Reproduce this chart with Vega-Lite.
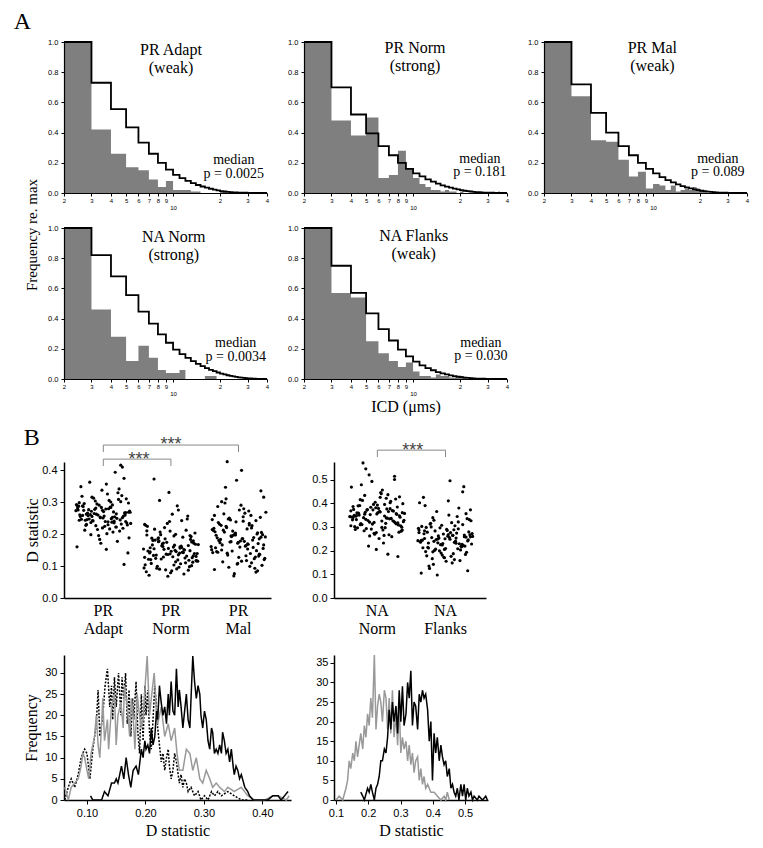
{
"$schema":"https://vega.github.io/schema/vega-lite/v6.json",
"background":"white",
"padding":{"left":13,"top":10,"right":0,"bottom":0},
"title":{"text":"A","anchor":"start","fontSize":24,"font":"Liberation Serif","fontWeight":"normal","color":"#000","offset":4,"dx":-10},
"config":{
 "view":{"stroke":null},
 "axis":{"domainColor":"#000","tickColor":"#000","labelColor":"#000","titleColor":"#000","labelFont":"Liberation Sans","titleFont":"Liberation Serif","titleFontWeight":"normal","grid":false,"labelFlush":false,"labelOverlap":false},
 "text":{"font":"Liberation Serif","color":"#000"},
 "title":{"font":"Liberation Serif","fontWeight":"normal","color":"#000"}
},
"datasets":{
"hPA":[{"x":2,"g":1,"e":1},{"x":3,"g":0.42,"e":0.73},{"x":4,"g":0.26,"e":0.556},{"x":5,"g":0.17,"e":0.435},{"x":6,"g":0.15,"e":0.334},{"x":7,"g":0.09,"e":0.26},{"x":8,"g":0.04,"e":0.2},{"x":9,"g":0.08,"e":0.155},{"x":10,"g":0.02,"e":0.12},{"x":11,"g":0.02,"e":0.098},{"x":12,"g":0.02,"e":0.08},{"x":13,"g":0.01,"e":0.065},{"x":14,"g":0.01,"e":0.053},{"x":15,"g":0,"e":0.043},{"x":16,"g":0,"e":0.035},{"x":17,"g":0,"e":0.028},{"x":18,"g":0,"e":0.022},{"x":19,"g":0,"e":0.017},{"x":20,"g":0.01,"e":0.013},{"x":21,"g":0.01,"e":0.01},{"x":22,"g":0,"e":0.008},{"x":23,"g":0,"e":0.006},{"x":24,"g":0,"e":0.0045},{"x":25,"g":0,"e":0.0035},{"x":26,"g":0,"e":0.0025},{"x":28,"g":0,"e":0.0015},{"x":30,"g":0,"e":0},{"x":40,"g":0,"e":0}],
"hPN":[{"x":2,"g":1,"e":1},{"x":3,"g":0.48,"e":0.7},{"x":4,"g":0.38,"e":0.52},{"x":5,"g":0.5,"e":0.395},{"x":6,"g":0.1,"e":0.31},{"x":7,"g":0.12,"e":0.25},{"x":8,"g":0.28,"e":0.2},{"x":9,"g":0.16,"e":0.16},{"x":10,"g":0.1,"e":0.13},{"x":11,"g":0.06,"e":0.11},{"x":12,"g":0.04,"e":0.09},{"x":13,"g":0.02,"e":0.075},{"x":14,"g":0.02,"e":0.062},{"x":15,"g":0.01,"e":0.051},{"x":16,"g":0.02,"e":0.042},{"x":17,"g":0.01,"e":0.035},{"x":18,"g":0.01,"e":0.029},{"x":19,"g":0,"e":0.024},{"x":20,"g":0.01,"e":0.019},{"x":21,"g":0,"e":0.015},{"x":22,"g":0,"e":0.012},{"x":23,"g":0,"e":0.01},{"x":24,"g":0,"e":0.008},{"x":25,"g":0,"e":0.006},{"x":26,"g":0,"e":0.005},{"x":27,"g":0,"e":0.004},{"x":28,"g":0,"e":0.003},{"x":30,"g":0,"e":0.002},{"x":33,"g":0,"e":0.001},{"x":35,"g":0.01,"e":0.001},{"x":36,"g":0,"e":0},{"x":40,"g":0,"e":0}],
"hPM":[{"x":2,"g":1,"e":1},{"x":3,"g":0.64,"e":0.72},{"x":4,"g":0.35,"e":0.53},{"x":5,"g":0.34,"e":0.4},{"x":6,"g":0.22,"e":0.31},{"x":7,"g":0.11,"e":0.25},{"x":8,"g":0.14,"e":0.2},{"x":9,"g":0.03,"e":0.16},{"x":10,"g":0.06,"e":0.13},{"x":11,"g":0.05,"e":0.105},{"x":12,"g":0.02,"e":0.085},{"x":13,"g":0.05,"e":0.07},{"x":14,"g":0.01,"e":0.057},{"x":15,"g":0.02,"e":0.046},{"x":16,"g":0.03,"e":0.037},{"x":17,"g":0.02,"e":0.03},{"x":18,"g":0.04,"e":0.024},{"x":19,"g":0.03,"e":0.019},{"x":20,"g":0.02,"e":0.015},{"x":21,"g":0.01,"e":0.012},{"x":22,"g":0,"e":0.009},{"x":23,"g":0,"e":0.007},{"x":24,"g":0,"e":0.005},{"x":25,"g":0,"e":0.004},{"x":26,"g":0,"e":0.003},{"x":28,"g":0,"e":0.002},{"x":30,"g":0,"e":0.001},{"x":32,"g":0,"e":0},{"x":40,"g":0,"e":0}],
"hNN":[{"x":2,"g":1,"e":1},{"x":3,"g":0.46,"e":0.82},{"x":4,"g":0.28,"e":0.68},{"x":5,"g":0.12,"e":0.555},{"x":6,"g":0.22,"e":0.446},{"x":7,"g":0.14,"e":0.367},{"x":8,"g":0.06,"e":0.295},{"x":9,"g":0.04,"e":0.24},{"x":10,"g":0.04,"e":0.195},{"x":11,"g":0.06,"e":0.165},{"x":12,"g":0,"e":0.14},{"x":13,"g":0,"e":0.118},{"x":14,"g":0,"e":0.1},{"x":15,"g":0,"e":0.085},{"x":16,"g":0.02,"e":0.072},{"x":17,"g":0.02,"e":0.061},{"x":18,"g":0.02,"e":0.052},{"x":19,"g":0,"e":0.043},{"x":20,"g":0,"e":0.036},{"x":21,"g":0,"e":0.03},{"x":22,"g":0,"e":0.025},{"x":23,"g":0,"e":0.021},{"x":24,"g":0,"e":0.017},{"x":25,"g":0,"e":0.014},{"x":26,"g":0,"e":0.011},{"x":27,"g":0,"e":0.009},{"x":28,"g":0,"e":0.007},{"x":29,"g":0,"e":0.005},{"x":30,"g":0,"e":0.004},{"x":32,"g":0,"e":0.002},{"x":34,"g":0,"e":0.001},{"x":36,"g":0,"e":0},{"x":40,"g":0,"e":0}],
"hNF":[{"x":2,"g":1,"e":1},{"x":3,"g":0.57,"e":0.75},{"x":4,"g":0.54,"e":0.57},{"x":5,"g":0.25,"e":0.435},{"x":6,"g":0.17,"e":0.33},{"x":7,"g":0.12,"e":0.255},{"x":8,"g":0.08,"e":0.195},{"x":9,"g":0.11,"e":0.15},{"x":10,"g":0.05,"e":0.115},{"x":11,"g":0.02,"e":0.09},{"x":12,"g":0.02,"e":0.072},{"x":13,"g":0.01,"e":0.058},{"x":14,"g":0.03,"e":0.046},{"x":15,"g":0.02,"e":0.037},{"x":16,"g":0.02,"e":0.03},{"x":17,"g":0.01,"e":0.024},{"x":18,"g":0.01,"e":0.019},{"x":19,"g":0.01,"e":0.015},{"x":20,"g":0.02,"e":0.012},{"x":21,"g":0.01,"e":0.009},{"x":22,"g":0,"e":0.007},{"x":23,"g":0,"e":0.005},{"x":24,"g":0,"e":0.004},{"x":25,"g":0,"e":0.003},{"x":27,"g":0,"e":0.002},{"x":29,"g":0,"e":0.001},{"x":31,"g":0,"e":0},{"x":40,"g":0,"e":0}],
"fL":[
{"s":"m","x":0.062,"f":0},{"s":"m","x":0.068,"f":3},{"s":"m","x":0.073,"f":5},{"s":"m","x":0.079,"f":3},{"s":"m","x":0.085,"f":6},{"s":"m","x":0.09,"f":10},{"s":"m","x":0.096,"f":12},{"s":"m","x":0.1,"f":11},{"s":"m","x":0.105,"f":5},{"s":"m","x":0.11,"f":12},{"s":"m","x":0.116,"f":18},{"s":"m","x":0.119,"f":26},{"s":"m","x":0.122,"f":15},{"s":"m","x":0.127,"f":20},{"s":"m","x":0.131,"f":27},{"s":"m","x":0.135,"f":31},{"s":"m","x":0.139,"f":22},{"s":"m","x":0.142,"f":27},{"s":"m","x":0.144,"f":19},{"s":"m","x":0.147,"f":29},{"s":"m","x":0.15,"f":22},{"s":"m","x":0.154,"f":30},{"s":"m","x":0.158,"f":20},{"s":"m","x":0.16,"f":29},{"s":"m","x":0.163,"f":24},{"s":"m","x":0.166,"f":30},{"s":"m","x":0.169,"f":18},{"s":"m","x":0.172,"f":26},{"s":"m","x":0.175,"f":15},{"s":"m","x":0.178,"f":24},{"s":"m","x":0.18,"f":19},{"s":"m","x":0.184,"f":28},{"s":"m","x":0.187,"f":16},{"s":"m","x":0.19,"f":11},{"s":"m","x":0.193,"f":25},{"s":"m","x":0.196,"f":14},{"s":"m","x":0.199,"f":27},{"s":"m","x":0.201,"f":20},{"s":"m","x":0.204,"f":26},{"s":"m","x":0.207,"f":16},{"s":"m","x":0.21,"f":12},{"s":"m","x":0.213,"f":19},{"s":"m","x":0.216,"f":27},{"s":"m","x":0.219,"f":22},{"s":"m","x":0.221,"f":17},{"s":"m","x":0.224,"f":13},{"s":"m","x":0.227,"f":9},{"s":"m","x":0.23,"f":11},{"s":"m","x":0.233,"f":7},{"s":"m","x":0.236,"f":10},{"s":"m","x":0.239,"f":12},{"s":"m","x":0.241,"f":8},{"s":"m","x":0.244,"f":5},{"s":"m","x":0.247,"f":7},{"s":"m","x":0.25,"f":11},{"s":"m","x":0.253,"f":9},{"s":"m","x":0.256,"f":6},{"s":"m","x":0.258,"f":4},{"s":"m","x":0.261,"f":6},{"s":"m","x":0.264,"f":3},{"s":"m","x":0.267,"f":5},{"s":"m","x":0.27,"f":4},{"s":"m","x":0.273,"f":2},{"s":"m","x":0.278,"f":3},{"s":"m","x":0.284,"f":1},{"s":"m","x":0.29,"f":2},{"s":"m","x":0.295,"f":0},{"s":"m","x":0.301,"f":1},{"s":"m","x":0.307,"f":0},{"s":"m","x":0.313,"f":2},{"s":"m","x":0.318,"f":1},{"s":"m","x":0.324,"f":2},{"s":"m","x":0.33,"f":1},{"s":"m","x":0.341,"f":2},{"s":"m","x":0.352,"f":1},{"s":"m","x":0.364,"f":0},{"s":"m","x":0.375,"f":0},
{"s":"n","x":0.062,"f":3},{"s":"n","x":0.068,"f":0},{"s":"n","x":0.073,"f":3},{"s":"n","x":0.079,"f":4},{"s":"n","x":0.085,"f":5},{"s":"n","x":0.09,"f":8},{"s":"n","x":0.093,"f":11},{"s":"n","x":0.096,"f":10},{"s":"n","x":0.1,"f":7},{"s":"n","x":0.103,"f":5},{"s":"n","x":0.107,"f":11},{"s":"n","x":0.113,"f":15},{"s":"n","x":0.116,"f":20},{"s":"n","x":0.119,"f":13},{"s":"n","x":0.122,"f":10},{"s":"n","x":0.125,"f":18},{"s":"n","x":0.127,"f":24},{"s":"n","x":0.13,"f":14},{"s":"n","x":0.135,"f":19},{"s":"n","x":0.137,"f":12},{"s":"n","x":0.142,"f":22},{"s":"n","x":0.147,"f":25},{"s":"n","x":0.15,"f":13},{"s":"n","x":0.153,"f":20},{"s":"n","x":0.158,"f":23},{"s":"n","x":0.162,"f":17},{"s":"n","x":0.164,"f":27},{"s":"n","x":0.169,"f":22},{"s":"n","x":0.173,"f":15},{"s":"n","x":0.176,"f":24},{"s":"n","x":0.179,"f":20},{"s":"n","x":0.182,"f":12},{"s":"n","x":0.186,"f":25},{"s":"n","x":0.189,"f":21},{"s":"n","x":0.193,"f":17},{"s":"n","x":0.196,"f":19},{"s":"n","x":0.2,"f":28},{"s":"n","x":0.203,"f":34},{"s":"n","x":0.207,"f":20},{"s":"n","x":0.21,"f":24},{"s":"n","x":0.215,"f":30},{"s":"n","x":0.219,"f":20},{"s":"n","x":0.221,"f":18},{"s":"n","x":0.227,"f":22},{"s":"n","x":0.233,"f":15},{"s":"n","x":0.239,"f":18},{"s":"n","x":0.244,"f":14},{"s":"n","x":0.25,"f":17},{"s":"n","x":0.254,"f":11},{"s":"n","x":0.258,"f":7},{"s":"n","x":0.264,"f":7},{"s":"n","x":0.27,"f":12},{"s":"n","x":0.276,"f":11},{"s":"n","x":0.281,"f":7},{"s":"n","x":0.287,"f":10},{"s":"n","x":0.293,"f":5},{"s":"n","x":0.298,"f":4},{"s":"n","x":0.304,"f":7},{"s":"n","x":0.31,"f":5},{"s":"n","x":0.315,"f":3},{"s":"n","x":0.321,"f":4},{"s":"n","x":0.327,"f":3},{"s":"n","x":0.335,"f":2},{"s":"n","x":0.341,"f":3},{"s":"n","x":0.352,"f":2},{"s":"n","x":0.364,"f":3},{"s":"n","x":0.375,"f":1},{"s":"n","x":0.387,"f":0},{"s":"n","x":0.404,"f":0},{"s":"n","x":0.418,"f":1},{"s":"n","x":0.427,"f":1},{"s":"n","x":0.441,"f":0},{"s":"n","x":0.446,"f":1},
{"s":"a","x":0.106,"f":1},{"s":"a","x":0.11,"f":0},{"s":"a","x":0.125,"f":0},{"s":"a","x":0.13,"f":2},{"s":"a","x":0.136,"f":1},{"s":"a","x":0.142,"f":4},{"s":"a","x":0.147,"f":4},{"s":"a","x":0.15,"f":5},{"s":"a","x":0.153,"f":4},{"s":"a","x":0.156,"f":6},{"s":"a","x":0.159,"f":8},{"s":"a","x":0.163,"f":5},{"s":"a","x":0.167,"f":10},{"s":"a","x":0.171,"f":6},{"s":"a","x":0.175,"f":3},{"s":"a","x":0.179,"f":7},{"s":"a","x":0.184,"f":8},{"s":"a","x":0.188,"f":6},{"s":"a","x":0.193,"f":12},{"s":"a","x":0.196,"f":10},{"s":"a","x":0.199,"f":14},{"s":"a","x":0.201,"f":12},{"s":"a","x":0.204,"f":13},{"s":"a","x":0.207,"f":11},{"s":"a","x":0.21,"f":17},{"s":"a","x":0.213,"f":13},{"s":"a","x":0.216,"f":15},{"s":"a","x":0.219,"f":21},{"s":"a","x":0.221,"f":19},{"s":"a","x":0.224,"f":27},{"s":"a","x":0.227,"f":23},{"s":"a","x":0.23,"f":20},{"s":"a","x":0.233,"f":22},{"s":"a","x":0.236,"f":18},{"s":"a","x":0.239,"f":25},{"s":"a","x":0.241,"f":20},{"s":"a","x":0.244,"f":28},{"s":"a","x":0.247,"f":21},{"s":"a","x":0.25,"f":20},{"s":"a","x":0.253,"f":31},{"s":"a","x":0.256,"f":22},{"s":"a","x":0.258,"f":26},{"s":"a","x":0.261,"f":22},{"s":"a","x":0.264,"f":17},{"s":"a","x":0.267,"f":21},{"s":"a","x":0.27,"f":25},{"s":"a","x":0.273,"f":19},{"s":"a","x":0.276,"f":17},{"s":"a","x":0.278,"f":24},{"s":"a","x":0.281,"f":34},{"s":"a","x":0.284,"f":28},{"s":"a","x":0.287,"f":24},{"s":"a","x":0.29,"f":27},{"s":"a","x":0.293,"f":25},{"s":"a","x":0.295,"f":20},{"s":"a","x":0.298,"f":17},{"s":"a","x":0.301,"f":21},{"s":"a","x":0.304,"f":19},{"s":"a","x":0.307,"f":14},{"s":"a","x":0.31,"f":12},{"s":"a","x":0.313,"f":17},{"s":"a","x":0.315,"f":16},{"s":"a","x":0.318,"f":11},{"s":"a","x":0.321,"f":12},{"s":"a","x":0.324,"f":11},{"s":"a","x":0.327,"f":13},{"s":"a","x":0.33,"f":11},{"s":"a","x":0.332,"f":16},{"s":"a","x":0.335,"f":14},{"s":"a","x":0.338,"f":11},{"s":"a","x":0.341,"f":12},{"s":"a","x":0.344,"f":9},{"s":"a","x":0.347,"f":12},{"s":"a","x":0.35,"f":8},{"s":"a","x":0.352,"f":6},{"s":"a","x":0.355,"f":8},{"s":"a","x":0.358,"f":7},{"s":"a","x":0.361,"f":5},{"s":"a","x":0.364,"f":6},{"s":"a","x":0.37,"f":3},{"s":"a","x":0.375,"f":2},{"s":"a","x":0.378,"f":1},{"s":"a","x":0.384,"f":0},{"s":"a","x":0.409,"f":0},{"s":"a","x":0.418,"f":1},{"s":"a","x":0.427,"f":1},{"s":"a","x":0.432,"f":0},{"s":"a","x":0.438,"f":1},{"s":"a","x":0.444,"f":2}],
"fR":[
{"s":"n","x":0.1,"f":0},{"s":"n","x":0.11,"f":1},{"s":"n","x":0.121,"f":0},{"s":"n","x":0.131,"f":3},{"s":"n","x":0.136,"f":5},{"s":"n","x":0.141,"f":10},{"s":"n","x":0.146,"f":8},{"s":"n","x":0.152,"f":12},{"s":"n","x":0.157,"f":10},{"s":"n","x":0.162,"f":15},{"s":"n","x":0.167,"f":11},{"s":"n","x":0.172,"f":14},{"s":"n","x":0.177,"f":17},{"s":"n","x":0.183,"f":13},{"s":"n","x":0.188,"f":19},{"s":"n","x":0.193,"f":16},{"s":"n","x":0.198,"f":22},{"s":"n","x":0.203,"f":19},{"s":"n","x":0.208,"f":26},{"s":"n","x":0.213,"f":21},{"s":"n","x":0.219,"f":37},{"s":"n","x":0.224,"f":18},{"s":"n","x":0.229,"f":24},{"s":"n","x":0.234,"f":27},{"s":"n","x":0.239,"f":25},{"s":"n","x":0.244,"f":20},{"s":"n","x":0.25,"f":28},{"s":"n","x":0.255,"f":26},{"s":"n","x":0.26,"f":18},{"s":"n","x":0.265,"f":26},{"s":"n","x":0.27,"f":17},{"s":"n","x":0.275,"f":28},{"s":"n","x":0.28,"f":16},{"s":"n","x":0.286,"f":22},{"s":"n","x":0.291,"f":14},{"s":"n","x":0.296,"f":24},{"s":"n","x":0.301,"f":12},{"s":"n","x":0.306,"f":16},{"s":"n","x":0.311,"f":13},{"s":"n","x":0.317,"f":15},{"s":"n","x":0.322,"f":10},{"s":"n","x":0.327,"f":14},{"s":"n","x":0.332,"f":9},{"s":"n","x":0.337,"f":12},{"s":"n","x":0.342,"f":7},{"s":"n","x":0.347,"f":10},{"s":"n","x":0.353,"f":11},{"s":"n","x":0.358,"f":5},{"s":"n","x":0.363,"f":8},{"s":"n","x":0.368,"f":4},{"s":"n","x":0.373,"f":6},{"s":"n","x":0.378,"f":3},{"s":"n","x":0.384,"f":4},{"s":"n","x":0.394,"f":2},{"s":"n","x":0.404,"f":2},{"s":"n","x":0.414,"f":1},{"s":"n","x":0.425,"f":0},{"s":"n","x":0.435,"f":1},{"s":"n","x":0.44,"f":0},{"s":"n","x":0.445,"f":2},{"s":"n","x":0.451,"f":0},
{"s":"a","x":0.177,"f":2},{"s":"a","x":0.183,"f":1},{"s":"a","x":0.188,"f":0},{"s":"a","x":0.198,"f":3},{"s":"a","x":0.203,"f":2},{"s":"a","x":0.208,"f":4},{"s":"a","x":0.213,"f":2},{"s":"a","x":0.219,"f":0},{"s":"a","x":0.224,"f":3},{"s":"a","x":0.229,"f":4},{"s":"a","x":0.234,"f":6},{"s":"a","x":0.239,"f":10},{"s":"a","x":0.244,"f":10},{"s":"a","x":0.25,"f":13},{"s":"a","x":0.255,"f":12},{"s":"a","x":0.26,"f":16},{"s":"a","x":0.265,"f":23},{"s":"a","x":0.27,"f":18},{"s":"a","x":0.275,"f":25},{"s":"a","x":0.28,"f":20},{"s":"a","x":0.286,"f":24},{"s":"a","x":0.291,"f":17},{"s":"a","x":0.296,"f":28},{"s":"a","x":0.301,"f":20},{"s":"a","x":0.306,"f":29},{"s":"a","x":0.311,"f":19},{"s":"a","x":0.317,"f":22},{"s":"a","x":0.322,"f":30},{"s":"a","x":0.327,"f":26},{"s":"a","x":0.332,"f":33},{"s":"a","x":0.337,"f":19},{"s":"a","x":0.342,"f":25},{"s":"a","x":0.347,"f":24},{"s":"a","x":0.353,"f":18},{"s":"a","x":0.358,"f":27},{"s":"a","x":0.363,"f":25},{"s":"a","x":0.368,"f":28},{"s":"a","x":0.373,"f":26},{"s":"a","x":0.378,"f":27},{"s":"a","x":0.384,"f":23},{"s":"a","x":0.389,"f":15},{"s":"a","x":0.394,"f":20},{"s":"a","x":0.399,"f":5},{"s":"a","x":0.404,"f":17},{"s":"a","x":0.409,"f":12},{"s":"a","x":0.414,"f":16},{"s":"a","x":0.42,"f":10},{"s":"a","x":0.425,"f":14},{"s":"a","x":0.43,"f":11},{"s":"a","x":0.435,"f":9},{"s":"a","x":0.44,"f":10},{"s":"a","x":0.445,"f":6},{"s":"a","x":0.451,"f":8},{"s":"a","x":0.456,"f":3},{"s":"a","x":0.461,"f":4},{"s":"a","x":0.466,"f":2},{"s":"a","x":0.471,"f":1},{"s":"a","x":0.476,"f":3},{"s":"a","x":0.481,"f":0},{"s":"a","x":0.487,"f":4},{"s":"a","x":0.492,"f":1},{"s":"a","x":0.497,"f":4},{"s":"a","x":0.502,"f":0},{"s":"a","x":0.507,"f":3},{"s":"a","x":0.512,"f":1},{"s":"a","x":0.518,"f":2},{"s":"a","x":0.523,"f":0},{"s":"a","x":0.528,"f":1},{"s":"a","x":0.538,"f":0},{"s":"a","x":0.543,"f":1},{"s":"a","x":0.554,"f":0},{"s":"a","x":0.564,"f":1},{"s":"a","x":0.569,"f":0}],
"sL":[
{"g":"PR Adapt","j":37,"d":0.262},{"g":"PR Adapt","j":82,"d":0.231},{"g":"PR Adapt","j":15,"d":0.295},{"g":"PR Adapt","j":64,"d":0.248},{"g":"PR Adapt","j":91,"d":0.31},{"g":"PR Adapt","j":23,"d":0.276},{"g":"PR Adapt","j":48,"d":0.219},{"g":"PR Adapt","j":70,"d":0.254},{"g":"PR Adapt","j":5,"d":0.287},{"g":"PR Adapt","j":56,"d":0.201},
{"g":"PR Adapt","j":88,"d":0.266},{"g":"PR Adapt","j":31,"d":0.241},{"g":"PR Adapt","j":76,"d":0.329},{"g":"PR Adapt","j":12,"d":0.258},{"g":"PR Adapt","j":43,"d":0.183},{"g":"PR Adapt","j":97,"d":0.272},{"g":"PR Adapt","j":60,"d":0.305},{"g":"PR Adapt","j":27,"d":0.236},{"g":"PR Adapt","j":84,"d":0.251},{"g":"PR Adapt","j":9,"d":0.348},
{"g":"PR Adapt","j":52,"d":0.224},{"g":"PR Adapt","j":68,"d":0.269},{"g":"PR Adapt","j":3,"d":0.281},{"g":"PR Adapt","j":39,"d":0.214},{"g":"PR Adapt","j":95,"d":0.297},{"g":"PR Adapt","j":20,"d":0.245},{"g":"PR Adapt","j":73,"d":0.263},{"g":"PR Adapt","j":45,"d":0.171},{"g":"PR Adapt","j":11,"d":0.318},{"g":"PR Adapt","j":86,"d":0.256},
{"g":"PR Adapt","j":58,"d":0.238},{"g":"PR Adapt","j":34,"d":0.277},{"g":"PR Adapt","j":79,"d":0.209},{"g":"PR Adapt","j":2,"d":0.289},{"g":"PR Adapt","j":66,"d":0.252},{"g":"PR Adapt","j":25,"d":0.362},{"g":"PR Adapt","j":93,"d":0.228},{"g":"PR Adapt","j":50,"d":0.27},{"g":"PR Adapt","j":17,"d":0.243},{"g":"PR Adapt","j":81,"d":0.301},
{"g":"PR Adapt","j":41,"d":0.195},{"g":"PR Adapt","j":7,"d":0.26},{"g":"PR Adapt","j":62,"d":0.284},{"g":"PR Adapt","j":99,"d":0.233},{"g":"PR Adapt","j":29,"d":0.315},{"g":"PR Adapt","j":74,"d":0.249},{"g":"PR Adapt","j":14,"d":0.274},{"g":"PR Adapt","j":55,"d":0.152},{"g":"PR Adapt","j":90,"d":0.267},{"g":"PR Adapt","j":36,"d":0.226},
{"g":"PR Adapt","j":1,"d":0.292},{"g":"PR Adapt","j":69,"d":0.24},{"g":"PR Adapt","j":47,"d":0.337},{"g":"PR Adapt","j":22,"d":0.257},{"g":"PR Adapt","j":85,"d":0.218},{"g":"PR Adapt","j":59,"d":0.279},{"g":"PR Adapt","j":10,"d":0.246},{"g":"PR Adapt","j":77,"d":0.308},{"g":"PR Adapt","j":33,"d":0.264},{"g":"PR Adapt","j":96,"d":0.188},
{"g":"PR Adapt","j":44,"d":0.253},{"g":"PR Adapt","j":63,"d":0.283},{"g":"PR Adapt","j":19,"d":0.23},{"g":"PR Adapt","j":87,"d":0.374},{"g":"PR Adapt","j":28,"d":0.271},{"g":"PR Adapt","j":53,"d":0.239},{"g":"PR Adapt","j":6,"d":0.298},{"g":"PR Adapt","j":72,"d":0.222},{"g":"PR Adapt","j":40,"d":0.259},{"g":"PR Adapt","j":94,"d":0.141},
{"g":"PR Adapt","j":13,"d":0.286},{"g":"PR Adapt","j":80,"d":0.244},{"g":"PR Adapt","j":57,"d":0.325},{"g":"PR Adapt","j":26,"d":0.261},{"g":"PR Adapt","j":67,"d":0.206},{"g":"PR Adapt","j":4,"d":0.275},{"g":"PR Adapt","j":92,"d":0.234},{"g":"PR Adapt","j":35,"d":0.303},{"g":"PR Adapt","j":49,"d":0.25},{"g":"PR Adapt","j":71,"d":0.393},
{"g":"PR Adapt","j":18,"d":0.227},{"g":"PR Adapt","j":98,"d":0.268},{"g":"PR Adapt","j":42,"d":0.29},{"g":"PR Adapt","j":61,"d":0.216},{"g":"PR Adapt","j":8,"d":0.255},{"g":"PR Adapt","j":83,"d":0.32},{"g":"PR Adapt","j":30,"d":0.242},{"g":"PR Adapt","j":54,"d":0.278},{"g":"PR Adapt","j":75,"d":0.177},{"g":"PR Adapt","j":21,"d":0.265},
{"g":"PR Adapt","j":65,"d":0.237},{"g":"PR Adapt","j":38,"d":0.294},{"g":"PR Adapt","j":89,"d":0.259},{"g":"PR Adapt","j":16,"d":0.212},{"g":"PR Adapt","j":46,"d":0.283},{"g":"PR Adapt","j":78,"d":0.341},{"g":"PR Adapt","j":24,"d":0.247},{"g":"PR Adapt","j":0,"d":0.273},{"g":"PR Adapt","j":58,"d":0.229},{"g":"PR Adapt","j":32,"d":0.312},
{"g":"PR Adapt","j":87,"d":0.105},{"g":"PR Adapt","j":51,"d":0.256},{"g":"PR Adapt","j":12,"d":0.288},{"g":"PR Adapt","j":69,"d":0.235},{"g":"PR Adapt","j":95,"d":0.268},{"g":"PR Adapt","j":27,"d":0.198},{"g":"PR Adapt","j":63,"d":0.3},{"g":"PR Adapt","j":44,"d":0.251},{"g":"PR Adapt","j":81,"d":0.415},{"g":"PR Adapt","j":6,"d":0.243},
{"g":"PR Adapt","j":36,"d":0.281},{"g":"PR Adapt","j":73,"d":0.222},{"g":"PR Adapt","j":19,"d":0.262},{"g":"PR Adapt","j":55,"d":0.356},{"g":"PR Adapt","j":90,"d":0.239},{"g":"PR Adapt","j":48,"d":0.274},{"g":"PR Adapt","j":2,"d":0.16},{"g":"PR Adapt","j":66,"d":0.291},{"g":"PR Adapt","j":29,"d":0.255},{"g":"PR Adapt","j":84,"d":0.409},
{"g":"PR Norm","j":37,"d":0.152},{"g":"PR Norm","j":82,"d":0.118},{"g":"PR Norm","j":15,"d":0.187},{"g":"PR Norm","j":64,"d":0.096},{"g":"PR Norm","j":91,"d":0.171},{"g":"PR Norm","j":23,"d":0.134},{"g":"PR Norm","j":48,"d":0.209},{"g":"PR Norm","j":70,"d":0.143},{"g":"PR Norm","j":5,"d":0.082},{"g":"PR Norm","j":56,"d":0.165},
{"g":"PR Norm","j":88,"d":0.126},{"g":"PR Norm","j":31,"d":0.198},{"g":"PR Norm","j":76,"d":0.11},{"g":"PR Norm","j":12,"d":0.157},{"g":"PR Norm","j":43,"d":0.233},{"g":"PR Norm","j":97,"d":0.139},{"g":"PR Norm","j":60,"d":0.091},{"g":"PR Norm","j":27,"d":0.176},{"g":"PR Norm","j":84,"d":0.148},{"g":"PR Norm","j":9,"d":0.121},
{"g":"PR Norm","j":52,"d":0.262},{"g":"PR Norm","j":68,"d":0.162},{"g":"PR Norm","j":3,"d":0.104},{"g":"PR Norm","j":39,"d":0.185},{"g":"PR Norm","j":95,"d":0.13},{"g":"PR Norm","j":20,"d":0.215},{"g":"PR Norm","j":73,"d":0.075},{"g":"PR Norm","j":45,"d":0.155},{"g":"PR Norm","j":11,"d":0.141},{"g":"PR Norm","j":86,"d":0.192},
{"g":"PR Norm","j":58,"d":0.113},{"g":"PR Norm","j":34,"d":0.169},{"g":"PR Norm","j":79,"d":0.247},{"g":"PR Norm","j":2,"d":0.127},{"g":"PR Norm","j":66,"d":0.16},{"g":"PR Norm","j":25,"d":0.099},{"g":"PR Norm","j":93,"d":0.203},{"g":"PR Norm","j":50,"d":0.146},{"g":"PR Norm","j":17,"d":0.18},{"g":"PR Norm","j":81,"d":0.087},
{"g":"PR Norm","j":41,"d":0.137},{"g":"PR Norm","j":7,"d":0.224},{"g":"PR Norm","j":62,"d":0.119},{"g":"PR Norm","j":99,"d":0.167},{"g":"PR Norm","j":29,"d":0.305},{"g":"PR Norm","j":74,"d":0.15},{"g":"PR Norm","j":14,"d":0.108},{"g":"PR Norm","j":55,"d":0.194},{"g":"PR Norm","j":90,"d":0.132},{"g":"PR Norm","j":36,"d":0.172},
{"g":"PR Norm","j":1,"d":0.094},{"g":"PR Norm","j":69,"d":0.158},{"g":"PR Norm","j":47,"d":0.239},{"g":"PR Norm","j":22,"d":0.124},{"g":"PR Norm","j":85,"d":0.183},{"g":"PR Norm","j":59,"d":0.145},{"g":"PR Norm","j":10,"d":0.071},{"g":"PR Norm","j":77,"d":0.212},{"g":"PR Norm","j":33,"d":0.163},{"g":"PR Norm","j":96,"d":0.116},
{"g":"PR Norm","j":44,"d":0.136},{"g":"PR Norm","j":63,"d":0.275},{"g":"PR Norm","j":19,"d":0.154},{"g":"PR Norm","j":87,"d":0.101},{"g":"PR Norm","j":28,"d":0.178},{"g":"PR Norm","j":53,"d":0.129},{"g":"PR Norm","j":6,"d":0.197},{"g":"PR Norm","j":72,"d":0.142},{"g":"PR Norm","j":40,"d":0.088},{"g":"PR Norm","j":94,"d":0.168},
{"g":"PR Norm","j":13,"d":0.12},{"g":"PR Norm","j":80,"d":0.256},{"g":"PR Norm","j":57,"d":0.149},{"g":"PR Norm","j":26,"d":0.185},{"g":"PR Norm","j":67,"d":0.107},{"g":"PR Norm","j":4,"d":0.227},{"g":"PR Norm","j":92,"d":0.139},{"g":"PR Norm","j":35,"d":0.161},{"g":"PR Norm","j":49,"d":0.079},{"g":"PR Norm","j":71,"d":0.19},
{"g":"PR Norm","j":18,"d":0.133},{"g":"PR Norm","j":98,"d":0.115},{"g":"PR Norm","j":42,"d":0.174},{"g":"PR Norm","j":61,"d":0.288},{"g":"PR Norm","j":8,"d":0.147},{"g":"PR Norm","j":83,"d":0.098},{"g":"PR Norm","j":30,"d":0.206},{"g":"PR Norm","j":54,"d":0.159},{"g":"PR Norm","j":75,"d":0.125},{"g":"PR Norm","j":21,"d":0.181},
{"g":"PR Norm","j":65,"d":0.14},{"g":"PR Norm","j":38,"d":0.22},{"g":"PR Norm","j":89,"d":0.112},{"g":"PR Norm","j":16,"d":0.166},{"g":"PR Norm","j":46,"d":0.33},{"g":"PR Norm","j":78,"d":0.131},{"g":"PR Norm","j":24,"d":0.093},{"g":"PR Norm","j":0,"d":0.153},{"g":"PR Norm","j":58,"d":0.199},{"g":"PR Norm","j":32,"d":0.122},
{"g":"PR Norm","j":87,"d":0.175},{"g":"PR Norm","j":51,"d":0.085},{"g":"PR Norm","j":12,"d":0.144},{"g":"PR Norm","j":69,"d":0.242},{"g":"PR Norm","j":95,"d":0.117},{"g":"PR Norm","j":27,"d":0.188},{"g":"PR Norm","j":63,"d":0.135},{"g":"PR Norm","j":44,"d":0.068},{"g":"PR Norm","j":81,"d":0.164},{"g":"PR Norm","j":6,"d":0.21},
{"g":"PR Norm","j":36,"d":0.128},{"g":"PR Norm","j":73,"d":0.151},{"g":"PR Norm","j":19,"d":0.372},{"g":"PR Norm","j":55,"d":0.103},{"g":"PR Norm","j":90,"d":0.179},{"g":"PR Norm","j":48,"d":0.138},{"g":"PR Norm","j":2,"d":0.23},{"g":"PR Norm","j":66,"d":0.156},{"g":"PR Norm","j":29,"d":0.09},{"g":"PR Norm","j":84,"d":0.195},
{"g":"PR Mal","j":37,"d":0.192},{"g":"PR Mal","j":82,"d":0.148},{"g":"PR Mal","j":15,"d":0.231},{"g":"PR Mal","j":64,"d":0.117},{"g":"PR Mal","j":91,"d":0.205},{"g":"PR Mal","j":23,"d":0.263},{"g":"PR Mal","j":48,"d":0.171},{"g":"PR Mal","j":70,"d":0.099},{"g":"PR Mal","j":5,"d":0.218},{"g":"PR Mal","j":56,"d":0.185},
{"g":"PR Mal","j":88,"d":0.136},{"g":"PR Mal","j":31,"d":0.247},{"g":"PR Mal","j":76,"d":0.158},{"g":"PR Mal","j":12,"d":0.286},{"g":"PR Mal","j":43,"d":0.201},{"g":"PR Mal","j":97,"d":0.124},{"g":"PR Mal","j":60,"d":0.177},{"g":"PR Mal","j":27,"d":0.224},{"g":"PR Mal","j":84,"d":0.085},{"g":"PR Mal","j":9,"d":0.196},
{"g":"PR Mal","j":52,"d":0.159},{"g":"PR Mal","j":68,"d":0.272},{"g":"PR Mal","j":3,"d":0.142},{"g":"PR Mal","j":39,"d":0.209},{"g":"PR Mal","j":95,"d":0.315},{"g":"PR Mal","j":20,"d":0.166},{"g":"PR Mal","j":73,"d":0.11},{"g":"PR Mal","j":45,"d":0.238},{"g":"PR Mal","j":11,"d":0.188},{"g":"PR Mal","j":86,"d":0.131},
{"g":"PR Mal","j":58,"d":0.254},{"g":"PR Mal","j":34,"d":0.175},{"g":"PR Mal","j":79,"d":0.093},{"g":"PR Mal","j":2,"d":0.214},{"g":"PR Mal","j":66,"d":0.153},{"g":"PR Mal","j":25,"d":0.297},{"g":"PR Mal","j":93,"d":0.198},{"g":"PR Mal","j":50,"d":0.127},{"g":"PR Mal","j":17,"d":0.183},{"g":"PR Mal","j":81,"d":0.242},
{"g":"PR Mal","j":41,"d":0.069},{"g":"PR Mal","j":7,"d":0.207},{"g":"PR Mal","j":62,"d":0.162},{"g":"PR Mal","j":99,"d":0.268},{"g":"PR Mal","j":29,"d":0.14},{"g":"PR Mal","j":74,"d":0.226},{"g":"PR Mal","j":14,"d":0.18},{"g":"PR Mal","j":55,"d":0.115},{"g":"PR Mal","j":90,"d":0.335},{"g":"PR Mal","j":36,"d":0.194},
{"g":"PR Mal","j":1,"d":0.151},{"g":"PR Mal","j":69,"d":0.233},{"g":"PR Mal","j":47,"d":0.106},{"g":"PR Mal","j":22,"d":0.212},{"g":"PR Mal","j":85,"d":0.17},{"g":"PR Mal","j":59,"d":0.279},{"g":"PR Mal","j":10,"d":0.145},{"g":"PR Mal","j":77,"d":0.189},{"g":"PR Mal","j":33,"d":0.25},{"g":"PR Mal","j":96,"d":0.12},
{"g":"PR Mal","j":44,"d":0.203},{"g":"PR Mal","j":63,"d":0.164},{"g":"PR Mal","j":19,"d":0.301},{"g":"PR Mal","j":87,"d":0.137},{"g":"PR Mal","j":28,"d":0.22},{"g":"PR Mal","j":53,"d":0.178},{"g":"PR Mal","j":6,"d":0.089},{"g":"PR Mal","j":72,"d":0.258},{"g":"PR Mal","j":40,"d":0.196},{"g":"PR Mal","j":94,"d":0.155},
{"g":"PR Mal","j":13,"d":0.236},{"g":"PR Mal","j":80,"d":0.128},{"g":"PR Mal","j":57,"d":0.186},{"g":"PR Mal","j":26,"d":0.346},{"g":"PR Mal","j":67,"d":0.168},{"g":"PR Mal","j":4,"d":0.211},{"g":"PR Mal","j":92,"d":0.102},{"g":"PR Mal","j":35,"d":0.244},{"g":"PR Mal","j":49,"d":0.174},{"g":"PR Mal","j":71,"d":0.139},
{"g":"PR Mal","j":18,"d":0.227},{"g":"PR Mal","j":98,"d":0.191},{"g":"PR Mal","j":42,"d":0.076},{"g":"PR Mal","j":61,"d":0.265},{"g":"PR Mal","j":8,"d":0.157},{"g":"PR Mal","j":83,"d":0.2},{"g":"PR Mal","j":30,"d":0.134},{"g":"PR Mal","j":54,"d":0.29},{"g":"PR Mal","j":75,"d":0.181},{"g":"PR Mal","j":21,"d":0.113},
{"g":"PR Mal","j":65,"d":0.216},{"g":"PR Mal","j":38,"d":0.147},{"g":"PR Mal","j":89,"d":0.252},{"g":"PR Mal","j":16,"d":0.173},{"g":"PR Mal","j":46,"d":0.368},{"g":"PR Mal","j":78,"d":0.123},{"g":"PR Mal","j":24,"d":0.206},{"g":"PR Mal","j":0,"d":0.161},{"g":"PR Mal","j":58,"d":0.24},{"g":"PR Mal","j":32,"d":0.096},
{"g":"PR Mal","j":87,"d":0.185},{"g":"PR Mal","j":51,"d":0.275},{"g":"PR Mal","j":12,"d":0.143},{"g":"PR Mal","j":69,"d":0.228},{"g":"PR Mal","j":95,"d":0.166},{"g":"PR Mal","j":27,"d":0.31},{"g":"PR Mal","j":63,"d":0.132},{"g":"PR Mal","j":44,"d":0.197},{"g":"PR Mal","j":81,"d":0.081},{"g":"PR Mal","j":6,"d":0.258},
{"g":"PR Mal","j":36,"d":0.176},{"g":"PR Mal","j":73,"d":0.219},{"g":"PR Mal","j":19,"d":0.15},{"g":"PR Mal","j":55,"d":0.399},{"g":"PR Mal","j":90,"d":0.19},{"g":"PR Mal","j":48,"d":0.108},{"g":"PR Mal","j":2,"d":0.245},{"g":"PR Mal","j":66,"d":0.169},{"g":"PR Mal","j":29,"d":0.426},{"g":"PR Mal","j":84,"d":0.204}],
"sR":[
{"g":"NA Norm","j":37,"d":0.352},{"g":"NA Norm","j":82,"d":0.318},{"g":"NA Norm","j":15,"d":0.389},{"g":"NA Norm","j":64,"d":0.297},{"g":"NA Norm","j":91,"d":0.341},{"g":"NA Norm","j":23,"d":0.412},{"g":"NA Norm","j":48,"d":0.276},{"g":"NA Norm","j":70,"d":0.365},{"g":"NA Norm","j":5,"d":0.33},{"g":"NA Norm","j":56,"d":0.445},
{"g":"NA Norm","j":88,"d":0.308},{"g":"NA Norm","j":31,"d":0.371},{"g":"NA Norm","j":76,"d":0.259},{"g":"NA Norm","j":12,"d":0.348},{"g":"NA Norm","j":43,"d":0.395},{"g":"NA Norm","j":97,"d":0.322},{"g":"NA Norm","j":60,"d":0.287},{"g":"NA Norm","j":27,"d":0.433},{"g":"NA Norm","j":84,"d":0.356},{"g":"NA Norm","j":9,"d":0.301},
{"g":"NA Norm","j":52,"d":0.378},{"g":"NA Norm","j":68,"d":0.337},{"g":"NA Norm","j":3,"d":0.468},{"g":"NA Norm","j":39,"d":0.291},{"g":"NA Norm","j":95,"d":0.36},{"g":"NA Norm","j":20,"d":0.314},{"g":"NA Norm","j":73,"d":0.402},{"g":"NA Norm","j":45,"d":0.269},{"g":"NA Norm","j":11,"d":0.345},{"g":"NA Norm","j":86,"d":0.384},
{"g":"NA Norm","j":58,"d":0.325},{"g":"NA Norm","j":34,"d":0.219},{"g":"NA Norm","j":79,"d":0.367},{"g":"NA Norm","j":2,"d":0.305},{"g":"NA Norm","j":66,"d":0.421},{"g":"NA Norm","j":25,"d":0.339},{"g":"NA Norm","j":93,"d":0.282},{"g":"NA Norm","j":50,"d":0.392},{"g":"NA Norm","j":17,"d":0.35},{"g":"NA Norm","j":81,"d":0.514},
{"g":"NA Norm","j":41,"d":0.312},{"g":"NA Norm","j":7,"d":0.374},{"g":"NA Norm","j":62,"d":0.264},{"g":"NA Norm","j":99,"d":0.357},{"g":"NA Norm","j":29,"d":0.332},{"g":"NA Norm","j":74,"d":0.408},{"g":"NA Norm","j":14,"d":0.296},{"g":"NA Norm","j":55,"d":0.363},{"g":"NA Norm","j":90,"d":0.427},{"g":"NA Norm","j":36,"d":0.32},
{"g":"NA Norm","j":1,"d":0.343},{"g":"NA Norm","j":69,"d":0.185},{"g":"NA Norm","j":47,"d":0.381},{"g":"NA Norm","j":22,"d":0.31},{"g":"NA Norm","j":85,"d":0.353},{"g":"NA Norm","j":59,"d":0.456},{"g":"NA Norm","j":10,"d":0.289},{"g":"NA Norm","j":77,"d":0.369},{"g":"NA Norm","j":33,"d":0.327},{"g":"NA Norm","j":96,"d":0.398},
{"g":"NA Norm","j":44,"d":0.273},{"g":"NA Norm","j":63,"d":0.346},{"g":"NA Norm","j":19,"d":0.415},{"g":"NA Norm","j":87,"d":0.317},{"g":"NA Norm","j":28,"d":0.362},{"g":"NA Norm","j":53,"d":0.251},{"g":"NA Norm","j":6,"d":0.386},{"g":"NA Norm","j":72,"d":0.334},{"g":"NA Norm","j":40,"d":0.492},{"g":"NA Norm","j":94,"d":0.299},
{"g":"NA Norm","j":13,"d":0.359},{"g":"NA Norm","j":80,"d":0.323},{"g":"NA Norm","j":57,"d":0.44},{"g":"NA Norm","j":26,"d":0.284},{"g":"NA Norm","j":67,"d":0.376},{"g":"NA Norm","j":4,"d":0.342},{"g":"NA Norm","j":92,"d":0.305},{"g":"NA Norm","j":35,"d":0.52},{"g":"NA Norm","j":49,"d":0.355},{"g":"NA Norm","j":71,"d":0.267},
{"g":"NA Norm","j":18,"d":0.39},{"g":"NA Norm","j":98,"d":0.328},{"g":"NA Norm","j":42,"d":0.372},{"g":"NA Norm","j":61,"d":0.232},{"g":"NA Norm","j":8,"d":0.349},{"g":"NA Norm","j":83,"d":0.418},{"g":"NA Norm","j":30,"d":0.293},{"g":"NA Norm","j":54,"d":0.366},{"g":"NA Norm","j":75,"d":0.336},{"g":"NA Norm","j":21,"d":0.478},
{"g":"NA Norm","j":65,"d":0.315},{"g":"NA Norm","j":38,"d":0.383},{"g":"NA Norm","j":89,"d":0.278},{"g":"NA Norm","j":16,"d":0.358},{"g":"NA Norm","j":46,"d":0.404},{"g":"NA Norm","j":78,"d":0.326},{"g":"NA Norm","j":24,"d":0.57},{"g":"NA Norm","j":0,"d":0.344},{"g":"NA Norm","j":58,"d":0.298},{"g":"NA Norm","j":32,"d":0.373},
{"g":"NA Norm","j":87,"d":0.175},{"g":"NA Norm","j":51,"d":0.361},{"g":"NA Norm","j":12,"d":0.331},{"g":"NA Norm","j":69,"d":0.436},{"g":"NA Norm","j":95,"d":0.287},{"g":"NA Norm","j":27,"d":0.354},{"g":"NA Norm","j":63,"d":0.395},{"g":"NA Norm","j":44,"d":0.319},{"g":"NA Norm","j":81,"d":0.5},{"g":"NA Norm","j":6,"d":0.34},
{"g":"NA Norm","j":36,"d":0.262},{"g":"NA Norm","j":73,"d":0.377},{"g":"NA Norm","j":19,"d":0.309},{"g":"NA Norm","j":55,"d":0.425},{"g":"NA Norm","j":90,"d":0.347},{"g":"NA Norm","j":48,"d":0.205},{"g":"NA Norm","j":2,"d":0.368},{"g":"NA Norm","j":66,"d":0.338},{"g":"NA Norm","j":29,"d":0.545},{"g":"NA Norm","j":84,"d":0.313},
{"g":"NA Flanks","j":37,"d":0.262},{"g":"NA Flanks","j":82,"d":0.221},{"g":"NA Flanks","j":15,"d":0.298},{"g":"NA Flanks","j":64,"d":0.187},{"g":"NA Flanks","j":91,"d":0.245},{"g":"NA Flanks","j":23,"d":0.315},{"g":"NA Flanks","j":48,"d":0.205},{"g":"NA Flanks","j":70,"d":0.274},{"g":"NA Flanks","j":5,"d":0.236},{"g":"NA Flanks","j":56,"d":0.35},
{"g":"NA Flanks","j":88,"d":0.193},{"g":"NA Flanks","j":31,"d":0.283},{"g":"NA Flanks","j":76,"d":0.158},{"g":"NA Flanks","j":12,"d":0.251},{"g":"NA Flanks","j":43,"d":0.307},{"g":"NA Flanks","j":97,"d":0.228},{"g":"NA Flanks","j":60,"d":0.176},{"g":"NA Flanks","j":27,"d":0.339},{"g":"NA Flanks","j":84,"d":0.266},{"g":"NA Flanks","j":9,"d":0.212},
{"g":"NA Flanks","j":52,"d":0.29},{"g":"NA Flanks","j":68,"d":0.24},{"g":"NA Flanks","j":3,"d":0.402},{"g":"NA Flanks","j":39,"d":0.199},{"g":"NA Flanks","j":95,"d":0.258},{"g":"NA Flanks","j":20,"d":0.135},{"g":"NA Flanks","j":73,"d":0.321},{"g":"NA Flanks","j":45,"d":0.23},{"g":"NA Flanks","j":11,"d":0.271},{"g":"NA Flanks","j":86,"d":0.184},
{"g":"NA Flanks","j":58,"d":0.248},{"g":"NA Flanks","j":34,"d":0.365},{"g":"NA Flanks","j":79,"d":0.216},{"g":"NA Flanks","j":2,"d":0.287},{"g":"NA Flanks","j":66,"d":0.162},{"g":"NA Flanks","j":25,"d":0.255},{"g":"NA Flanks","j":93,"d":0.331},{"g":"NA Flanks","j":50,"d":0.209},{"g":"NA Flanks","j":17,"d":0.278},{"g":"NA Flanks","j":81,"d":0.448},
{"g":"NA Flanks","j":41,"d":0.225},{"g":"NA Flanks","j":7,"d":0.302},{"g":"NA Flanks","j":62,"d":0.148},{"g":"NA Flanks","j":99,"d":0.26},{"g":"NA Flanks","j":29,"d":0.239},{"g":"NA Flanks","j":74,"d":0.38},{"g":"NA Flanks","j":14,"d":0.196},{"g":"NA Flanks","j":55,"d":0.268},{"g":"NA Flanks","j":90,"d":0.115},{"g":"NA Flanks","j":36,"d":0.233},
{"g":"NA Flanks","j":1,"d":0.294},{"g":"NA Flanks","j":69,"d":0.253},{"g":"NA Flanks","j":47,"d":0.172},{"g":"NA Flanks","j":22,"d":0.312},{"g":"NA Flanks","j":85,"d":0.219},{"g":"NA Flanks","j":59,"d":0.276},{"g":"NA Flanks","j":10,"d":0.425},{"g":"NA Flanks","j":77,"d":0.203},{"g":"NA Flanks","j":33,"d":0.247},{"g":"NA Flanks","j":96,"d":0.326},
{"g":"NA Flanks","j":44,"d":0.181},{"g":"NA Flanks","j":63,"d":0.264},{"g":"NA Flanks","j":19,"d":0.232},{"g":"NA Flanks","j":87,"d":0.356},{"g":"NA Flanks","j":28,"d":0.142},{"g":"NA Flanks","j":53,"d":0.285},{"g":"NA Flanks","j":6,"d":0.243},{"g":"NA Flanks","j":72,"d":0.208},{"g":"NA Flanks","j":40,"d":0.296},{"g":"NA Flanks","j":94,"d":0.267},
{"g":"NA Flanks","j":13,"d":0.39},{"g":"NA Flanks","j":80,"d":0.226},{"g":"NA Flanks","j":57,"d":0.255},{"g":"NA Flanks","j":26,"d":0.166},{"g":"NA Flanks","j":67,"d":0.305},{"g":"NA Flanks","j":4,"d":0.237},{"g":"NA Flanks","j":92,"d":0.279},{"g":"NA Flanks","j":35,"d":0.097},{"g":"NA Flanks","j":49,"d":0.25},{"g":"NA Flanks","j":71,"d":0.344},
{"g":"NA Flanks","j":18,"d":0.214},{"g":"NA Flanks","j":98,"d":0.272},{"g":"NA Flanks","j":42,"d":0.19},{"g":"NA Flanks","j":61,"d":0.318},{"g":"NA Flanks","j":8,"d":0.244},{"g":"NA Flanks","j":83,"d":0.47},{"g":"NA Flanks","j":30,"d":0.201},{"g":"NA Flanks","j":54,"d":0.261},{"g":"NA Flanks","j":75,"d":0.229},{"g":"NA Flanks","j":21,"d":0.125},
{"g":"NA Flanks","j":65,"d":0.288},{"g":"NA Flanks","j":38,"d":0.253},{"g":"NA Flanks","j":89,"d":0.335},{"g":"NA Flanks","j":16,"d":0.178},{"g":"NA Flanks","j":46,"d":0.27},{"g":"NA Flanks","j":78,"d":0.218},{"g":"NA Flanks","j":24,"d":0.3},{"g":"NA Flanks","j":0,"d":0.242},{"g":"NA Flanks","j":58,"d":0.495},{"g":"NA Flanks","j":32,"d":0.206},
{"g":"NA Flanks","j":87,"d":0.257},{"g":"NA Flanks","j":51,"d":0.155},{"g":"NA Flanks","j":12,"d":0.284},{"g":"NA Flanks","j":69,"d":0.231},{"g":"NA Flanks","j":95,"d":0.372},{"g":"NA Flanks","j":27,"d":0.195},{"g":"NA Flanks","j":63,"d":0.265},{"g":"NA Flanks","j":44,"d":0.224},{"g":"NA Flanks","j":81,"d":0.31},{"g":"NA Flanks","j":6,"d":0.105},
{"g":"NA Flanks","j":36,"d":0.249},{"g":"NA Flanks","j":73,"d":0.292},{"g":"NA Flanks","j":19,"d":0.211},{"g":"NA Flanks","j":55,"d":0.41},{"g":"NA Flanks","j":90,"d":0.241},{"g":"NA Flanks","j":48,"d":0.17},{"g":"NA Flanks","j":2,"d":0.276},{"g":"NA Flanks","j":66,"d":0.235},{"g":"NA Flanks","j":29,"d":0.328},{"g":"NA Flanks","j":84,"d":0.259}]
},
"spacing":12,
"vconcat":[
{
 "title":{"text":"Frequency re. max","orient":"left","fontSize":15,"font":"Liberation Serif","fontWeight":"normal","color":"#000","offset":8,"dx":123},
 "columns":3,"bounds":"flush","spacing":{"row":35,"column":37},
 "concat":[
  {"width":203,"height":151,"data":{"name":"hPA"},"layer":[
   {"mark":{"type":"area","interpolate":"step-after","color":"#7f7f7f"},"encoding":{"x":{"field":"x","type":"quantitative","scale":{"type":"log","domain":[2,40],"nice":false},"axis":{"values":[2,3,4,5,6,7,8,9,10,20,30,40],"tickCount":50,"labelExpr":"datum.value == 10 ? ['', '10'] : (datum.value >= 20 ? format(datum.value / 10, 'd') : format(datum.value, 'd'))","labelFontSize":6,"labelLineHeight":7,"labelPadding":1,"tickSize":3,"tickWidth":1,"domain":true,"domainWidth":1.2,"labelOverlap":false,"zindex":1,"title":null}},"y":{"field":"g","type":"quantitative","scale":{"domain":[0,1],"nice":false},"axis":{"values":[0,0.2,0.4,0.6,0.8,1],"tickCount":20,"format":".1f","labelFontSize":7.5,"labelPadding":3,"tickSize":3,"tickWidth":1,"domain":true,"domainWidth":1.2,"labelOverlap":false,"zindex":1,"title":null}}}},
   {"mark":{"type":"line","interpolate":"step-after","color":"#000","strokeWidth":1.8},"encoding":{"x":{"field":"x","type":"quantitative"},"y":{"field":"e","type":"quantitative"}}},
   {"data":{"values":[{}]},"mark":{"type":"text","text":["PR Adapt","(weak)"],"fontSize":16,"lineHeight":18,"align":"center","baseline":"alphabetic"},"encoding":{"x":{"datum":9.7},"y":{"datum":0.914}}},
   {"data":{"values":[{}]},"mark":{"type":"text","text":["median","p = 0.0025"],"fontSize":14,"lineHeight":13.5,"align":"center","baseline":"alphabetic"},"encoding":{"x":{"datum":24.5},"y":{"datum":0.19}}}
  ]},
  {"width":203,"height":151,"data":{"name":"hPN"},"layer":[
   {"mark":{"type":"area","interpolate":"step-after","color":"#7f7f7f"},"encoding":{"x":{"field":"x","type":"quantitative","scale":{"type":"log","domain":[2,40],"nice":false},"axis":{"values":[2,3,4,5,6,7,8,9,10,20,30,40],"tickCount":50,"labelExpr":"datum.value == 10 ? ['', '10'] : (datum.value >= 20 ? format(datum.value / 10, 'd') : format(datum.value, 'd'))","labelFontSize":6,"labelLineHeight":7,"labelPadding":1,"tickSize":3,"tickWidth":1,"domain":true,"domainWidth":1.2,"labelOverlap":false,"zindex":1,"title":null}},"y":{"field":"g","type":"quantitative","scale":{"domain":[0,1],"nice":false},"axis":{"values":[0,0.2,0.4,0.6,0.8,1],"tickCount":20,"format":".1f","labelFontSize":7.5,"labelPadding":3,"tickSize":3,"tickWidth":1,"domain":true,"domainWidth":1.2,"labelOverlap":false,"zindex":1,"title":null}}}},
   {"mark":{"type":"line","interpolate":"step-after","color":"#000","strokeWidth":1.8},"encoding":{"x":{"field":"x","type":"quantitative"},"y":{"field":"e","type":"quantitative"}}},
   {"data":{"values":[{}]},"mark":{"type":"text","text":["PR Norm","(strong)"],"fontSize":16,"lineHeight":18,"align":"center","baseline":"alphabetic"},"encoding":{"x":{"datum":10.3},"y":{"datum":0.93}}},
   {"data":{"values":[{}]},"mark":{"type":"text","text":["median","p = 0.181"],"fontSize":14,"lineHeight":13.5,"align":"center","baseline":"alphabetic"},"encoding":{"x":{"datum":26.8},"y":{"datum":0.2}}}
  ]},
  {"width":203,"height":151,"data":{"name":"hPM"},"layer":[
   {"mark":{"type":"area","interpolate":"step-after","color":"#7f7f7f"},"encoding":{"x":{"field":"x","type":"quantitative","scale":{"type":"log","domain":[2,40],"nice":false},"axis":{"values":[2,3,4,5,6,7,8,9,10,20,30,40],"tickCount":50,"labelExpr":"datum.value == 10 ? ['', '10'] : (datum.value >= 20 ? format(datum.value / 10, 'd') : format(datum.value, 'd'))","labelFontSize":6,"labelLineHeight":7,"labelPadding":1,"tickSize":3,"tickWidth":1,"domain":true,"domainWidth":1.2,"labelOverlap":false,"zindex":1,"title":null}},"y":{"field":"g","type":"quantitative","scale":{"domain":[0,1],"nice":false},"axis":{"values":[0,0.2,0.4,0.6,0.8,1],"tickCount":20,"format":".1f","labelFontSize":7.5,"labelPadding":3,"tickSize":3,"tickWidth":1,"domain":true,"domainWidth":1.2,"labelOverlap":false,"zindex":1,"title":null}}}},
   {"mark":{"type":"line","interpolate":"step-after","color":"#000","strokeWidth":1.8},"encoding":{"x":{"field":"x","type":"quantitative"},"y":{"field":"e","type":"quantitative"}}},
   {"data":{"values":[{}]},"mark":{"type":"text","text":["PR Mal","(weak)"],"fontSize":16,"lineHeight":18,"align":"center","baseline":"alphabetic"},"encoding":{"x":{"datum":9.9},"y":{"datum":0.93}}},
   {"data":{"values":[{}]},"mark":{"type":"text","text":["median","p = 0.089"],"fontSize":14,"lineHeight":13.5,"align":"center","baseline":"alphabetic"},"encoding":{"x":{"datum":26},"y":{"datum":0.2}}}
  ]},
  {"width":203,"height":151,"data":{"name":"hNN"},"layer":[
   {"mark":{"type":"area","interpolate":"step-after","color":"#7f7f7f"},"encoding":{"x":{"field":"x","type":"quantitative","scale":{"type":"log","domain":[2,40],"nice":false},"axis":{"values":[2,3,4,5,6,7,8,9,10,20,30,40],"tickCount":50,"labelExpr":"datum.value == 10 ? ['', '10'] : (datum.value >= 20 ? format(datum.value / 10, 'd') : format(datum.value, 'd'))","labelFontSize":6,"labelLineHeight":7,"labelPadding":1,"tickSize":3,"tickWidth":1,"domain":true,"domainWidth":1.2,"labelOverlap":false,"zindex":1,"title":null}},"y":{"field":"g","type":"quantitative","scale":{"domain":[0,1],"nice":false},"axis":{"values":[0,0.2,0.4,0.6,0.8,1],"tickCount":20,"format":".1f","labelFontSize":7.5,"labelPadding":3,"tickSize":3,"tickWidth":1,"domain":true,"domainWidth":1.2,"labelOverlap":false,"zindex":1,"title":null}}}},
   {"mark":{"type":"line","interpolate":"step-after","color":"#000","strokeWidth":1.8},"encoding":{"x":{"field":"x","type":"quantitative"},"y":{"field":"e","type":"quantitative"}}},
   {"data":{"values":[{}]},"mark":{"type":"text","text":["NA Norm","(strong)"],"fontSize":16,"lineHeight":18,"align":"center","baseline":"alphabetic"},"encoding":{"x":{"datum":10.1},"y":{"datum":0.91}}},
   {"data":{"values":[{}]},"mark":{"type":"text","text":["median","p = 0.0034"],"fontSize":14,"lineHeight":13.5,"align":"center","baseline":"alphabetic"},"encoding":{"x":{"datum":25.2},"y":{"datum":0.21}}}
  ]},
  {"width":203,"height":151,"data":{"name":"hNF"},"layer":[
   {"mark":{"type":"area","interpolate":"step-after","color":"#7f7f7f"},"encoding":{"x":{"field":"x","type":"quantitative","scale":{"type":"log","domain":[2,40],"nice":false},"axis":{"values":[2,3,4,5,6,7,8,9,10,20,30,40],"tickCount":50,"labelExpr":"datum.value == 10 ? ['', '10'] : (datum.value >= 20 ? format(datum.value / 10, 'd') : format(datum.value, 'd'))","labelFontSize":6,"labelLineHeight":7,"labelPadding":1,"tickSize":3,"tickWidth":1,"domain":true,"domainWidth":1.2,"labelOverlap":false,"zindex":1,"title":"ICD (μms)","titleFontSize":16,"titlePadding":2}},"y":{"field":"g","type":"quantitative","scale":{"domain":[0,1],"nice":false},"axis":{"values":[0,0.2,0.4,0.6,0.8,1],"tickCount":20,"format":".1f","labelFontSize":7.5,"labelPadding":3,"tickSize":3,"tickWidth":1,"domain":true,"domainWidth":1.2,"labelOverlap":false,"zindex":1,"title":null}}}},
   {"mark":{"type":"line","interpolate":"step-after","color":"#000","strokeWidth":1.8},"encoding":{"x":{"field":"x","type":"quantitative"},"y":{"field":"e","type":"quantitative"}}},
   {"data":{"values":[{}]},"mark":{"type":"text","text":["NA Flanks","(weak)"],"fontSize":16,"lineHeight":18,"align":"center","baseline":"alphabetic"},"encoding":{"x":{"datum":10.1},"y":{"datum":0.915}}},
   {"data":{"values":[{}]},"mark":{"type":"text","text":["median","p = 0.030"],"fontSize":14,"lineHeight":13.5,"align":"center","baseline":"alphabetic"},"encoding":{"x":{"datum":27.2},"y":{"datum":0.215}}}
  ]}
 ]
},
{
 "title":{"text":"B","anchor":"start","fontSize":24,"font":"Liberation Serif","fontWeight":"normal","color":"#000","offset":-14},
 "columns":2,"align":"each","bounds":"flush","spacing":{"row":57,"column":43},
 "concat":[
  {"width":207,"height":136,"layer":[
   {"data":{"name":"sL"},"mark":{"type":"circle","size":10,"color":"#000","opacity":1},"encoding":{
     "x":{"field":"g","type":"nominal","scale":{"type":"band","domain":["PR Adapt","PR Norm","PR Mal"],"paddingInner":0.19,"paddingOuter":0.126,"align":0.7},"axis":{"title":null,"ticks":false,"labelExpr":"split(datum.label, ' ')","labelFont":"Liberation Serif","labelFontSize":16,"labelLineHeight":18,"labelPadding":4,"labelAngle":0,"domainWidth":1.5}},
     "xOffset":{"field":"j","type":"quantitative","scale":{"domain":[0,99]}},
     "y":{"field":"d","type":"quantitative","scale":{"domain":[0,0.425],"nice":false},"axis":{"values":[0,0.1,0.2,0.3,0.4],"tickCount":20,"format":".1f","title":"D statistic","titleFontSize":16,"titlePadding":1,"labelFontSize":11,"labelPadding":3,"tickSize":4,"domainWidth":1.5}}}},
   {"data":{"values":[{}]},"mark":{"type":"rule","color":"#888","strokeWidth":1},"encoding":{"x":{"datum":"PR Adapt","type":"nominal","bandPosition":0.5},"x2":{"datum":"PR Mal","bandPosition":0.5},"y":{"datum":0.478}}},
   {"data":{"values":[{}]},"mark":{"type":"rule","color":"#888","strokeWidth":1},"encoding":{"x":{"datum":"PR Adapt","type":"nominal","bandPosition":0.5},"y":{"datum":0.478},"y2":{"datum":0.456}}},
   {"data":{"values":[{}]},"mark":{"type":"rule","color":"#888","strokeWidth":1},"encoding":{"x":{"datum":"PR Mal","type":"nominal","bandPosition":0.5},"y":{"datum":0.478},"y2":{"datum":0.456}}},
   {"data":{"values":[{}]},"mark":{"type":"rule","color":"#888","strokeWidth":1},"encoding":{"x":{"datum":"PR Adapt","type":"nominal","bandPosition":0.5},"x2":{"datum":"PR Norm","bandPosition":0.5},"y":{"datum":0.434}}},
   {"data":{"values":[{}]},"mark":{"type":"rule","color":"#888","strokeWidth":1},"encoding":{"x":{"datum":"PR Adapt","type":"nominal","bandPosition":0.5},"y":{"datum":0.434},"y2":{"datum":0.4125}}},
   {"data":{"values":[{}]},"mark":{"type":"rule","color":"#888","strokeWidth":1},"encoding":{"x":{"datum":"PR Norm","type":"nominal","bandPosition":0.5},"y":{"datum":0.434},"y2":{"datum":0.4125}}},
   {"data":{"values":[{}]},"mark":{"type":"text","text":"***","font":"Liberation Sans","fontSize":18,"color":"#444","align":"center","baseline":"alphabetic"},"encoding":{"x":{"datum":"PR Norm","type":"nominal","bandPosition":0.5},"y":{"datum":0.461}}},
   {"data":{"values":[{}]},"mark":{"type":"text","text":"***","font":"Liberation Sans","fontSize":18,"color":"#444","align":"center","baseline":"alphabetic"},"encoding":{"x":{"datum":"PR Adapt","type":"nominal","bandPosition":1.15},"y":{"datum":0.415}}}
  ]},
  {"width":152,"height":136,"layer":[
   {"data":{"name":"sR"},"mark":{"type":"circle","size":10,"color":"#000","opacity":1},"encoding":{
     "x":{"field":"g","type":"nominal","scale":{"type":"band","domain":["NA Norm","NA Flanks"],"paddingInner":0.19,"paddingOuter":0.21,"align":0.55},"axis":{"title":null,"ticks":false,"labelExpr":"split(datum.label, ' ')","labelFont":"Liberation Serif","labelFontSize":16,"labelLineHeight":18,"labelPadding":4,"labelAngle":0,"domainWidth":1.5}},
     "xOffset":{"field":"j","type":"quantitative","scale":{"domain":[0,99]}},
     "y":{"field":"d","type":"quantitative","scale":{"domain":[0,0.574],"nice":false},"axis":{"values":[0,0.1,0.2,0.3,0.4,0.5],"tickCount":20,"format":".1f","title":null,"labelFontSize":11,"labelPadding":3,"tickSize":4,"domainWidth":1.5}}}},
   {"data":{"values":[{}]},"mark":{"type":"rule","color":"#888","strokeWidth":1},"encoding":{"x":{"datum":"NA Norm","type":"nominal","bandPosition":0.5},"x2":{"datum":"NA Flanks","bandPosition":0.5},"y":{"datum":0.624}}},
   {"data":{"values":[{}]},"mark":{"type":"rule","color":"#888","strokeWidth":1},"encoding":{"x":{"datum":"NA Norm","type":"nominal","bandPosition":0.5},"y":{"datum":0.624},"y2":{"datum":0.595}}},
   {"data":{"values":[{}]},"mark":{"type":"rule","color":"#888","strokeWidth":1},"encoding":{"x":{"datum":"NA Flanks","type":"nominal","bandPosition":0.5},"y":{"datum":0.624},"y2":{"datum":0.595}}},
   {"data":{"values":[{}]},"mark":{"type":"text","text":"***","font":"Liberation Sans","fontSize":18,"color":"#444","align":"center","baseline":"alphabetic"},"encoding":{"x":{"datum":"NA Norm","type":"nominal","bandPosition":1.14},"y":{"datum":0.601}}}
  ]},
  {"width":227,"height":145,"data":{"name":"fL"},"mark":{"type":"line","strokeWidth":1.5},"encoding":{
    "x":{"field":"x","type":"quantitative","scale":{"domain":[0.0607,0.449],"nice":false},"axis":{"values":[0.1,0.2,0.3,0.4],"tickCount":20,"format":".2f","title":"D statistic","titleFontSize":16,"titlePadding":4,"labelFontSize":11,"labelPadding":3,"tickSize":4,"domainWidth":1.5}},
    "y":{"field":"f","type":"quantitative","scale":{"domain":[0,34.25],"nice":false},"axis":{"values":[0,5,10,15,20,25,30],"tickCount":20,"title":"Frequency","titleFontSize":16,"titlePadding":5,"labelFontSize":11,"labelPadding":3,"tickSize":4,"domainWidth":1.5}},
    "color":{"field":"s","type":"nominal","scale":{"domain":["m","n","a"],"range":["#000","#999","#000"]},"legend":null},
    "strokeDash":{"field":"s","type":"nominal","scale":{"domain":["m","n","a"],"range":[[2,1.5],[1,0],[1,0]]},"legend":null}}},
  {"width":154,"height":145,"data":{"name":"fR"},"mark":{"type":"line","strokeWidth":1.5},"encoding":{
    "x":{"field":"x","type":"quantitative","scale":{"domain":[0.094,0.571],"nice":false},"axis":{"values":[0.1,0.2,0.3,0.4,0.5],"tickCount":20,"format":".1f","title":"D statistic","titleFontSize":16,"titlePadding":4,"labelFontSize":11,"labelPadding":3,"tickSize":4,"domainWidth":1.5}},
    "y":{"field":"f","type":"quantitative","scale":{"domain":[0,37],"nice":false},"axis":{"values":[0,5,10,15,20,25,30,35],"tickCount":20,"title":null,"labelFontSize":11,"labelPadding":2,"tickSize":4,"domainWidth":1.5}},
    "color":{"field":"s","type":"nominal","scale":{"domain":["n","a"],"range":["#999","#000"]},"legend":null}}}
 ]
}
]
}
